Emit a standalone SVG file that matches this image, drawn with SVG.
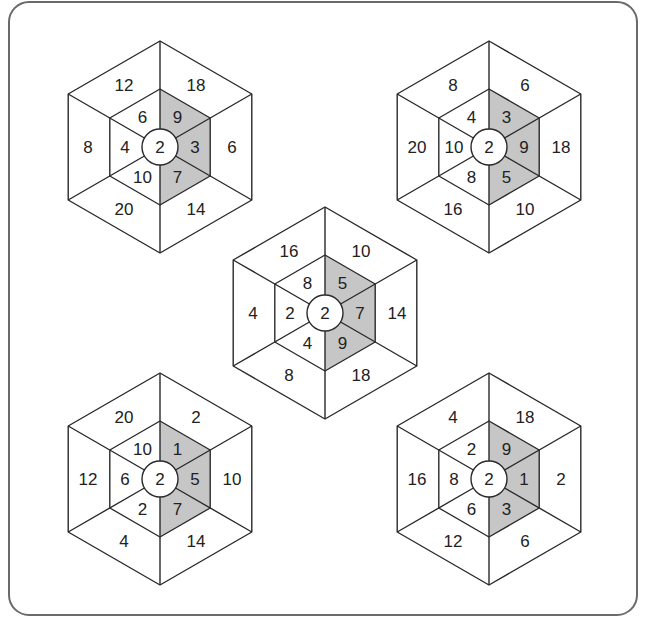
<svg xmlns="http://www.w3.org/2000/svg" xmlns:xlink="http://www.w3.org/1999/xlink" width="654" height="618" viewBox="0 0 654 618">
<style>
.ln{fill:none;stroke:#2a2a2a;stroke-width:1.4;stroke-linejoin:round}
.sh{fill:#c6c6c6;stroke:none}
.cc{fill:#fff;stroke:#2a2a2a;stroke-width:1.4}
text{font-family:"Liberation Sans",Arial,sans-serif;font-size:17px;fill:#222;text-anchor:middle}
.frame{fill:#fff;stroke:#6a6a6a;stroke-width:2}
</style>
<defs>
<g id="hexshape">
<polygon class="sh" points="0,0 0,-58 50.2,-29 50.2,29 0,58"/>
<polygon class="ln" points="0,-106 91.8,-53 91.8,53 0,106 -91.8,53 -91.8,-53"/>
<polygon class="ln" points="0,-58 50.2,-29 50.2,29 0,58 -50.2,29 -50.2,-29"/>
<path class="ln" d="M0,-18V-106M0,18V106M15.6,-9L91.8,-53M15.6,9L91.8,53M-15.6,-9L-91.8,-53M-15.6,9L-91.8,53"/>
<circle class="cc" r="18"/>
</g>
</defs>
<rect class="frame" x="9" y="2" width="628" height="613" rx="20"/>
<g id="connectors"/>
<g id="hex-top-left" transform="translate(160,147)">
<use xlink:href="#hexshape"/>
<text x="0" y="6">2</text>
<text x="17.5" y="-24.3">9</text><text x="35" y="6">3</text><text x="17.5" y="36.3">7</text>
<text x="-17.5" y="36.3">10</text><text x="-35" y="6">4</text><text x="-17.5" y="-24.3">6</text>
<text x="36" y="-56.4">18</text><text x="72" y="6">6</text><text x="36" y="68.4">14</text>
<text x="-36" y="68.4">20</text><text x="-72" y="6">8</text><text x="-36" y="-56.4">12</text>
</g>
<g id="hex-top-right" transform="translate(489,147)">
<use xlink:href="#hexshape"/>
<text x="0" y="6">2</text>
<text x="17.5" y="-24.3">3</text><text x="35" y="6">9</text><text x="17.5" y="36.3">5</text>
<text x="-17.5" y="36.3">8</text><text x="-35" y="6">10</text><text x="-17.5" y="-24.3">4</text>
<text x="36" y="-56.4">6</text><text x="72" y="6">18</text><text x="36" y="68.4">10</text>
<text x="-36" y="68.4">16</text><text x="-72" y="6">20</text><text x="-36" y="-56.4">8</text>
</g>
<g id="hex-center" transform="translate(325,313)">
<use xlink:href="#hexshape"/>
<text x="0" y="6">2</text>
<text x="17.5" y="-24.3">5</text><text x="35" y="6">7</text><text x="17.5" y="36.3">9</text>
<text x="-17.5" y="36.3">4</text><text x="-35" y="6">2</text><text x="-17.5" y="-24.3">8</text>
<text x="36" y="-56.4">10</text><text x="72" y="6">14</text><text x="36" y="68.4">18</text>
<text x="-36" y="68.4">8</text><text x="-72" y="6">4</text><text x="-36" y="-56.4">16</text>
</g>
<g id="hex-bottom-left" transform="translate(160,479)">
<use xlink:href="#hexshape"/>
<text x="0" y="6">2</text>
<text x="17.5" y="-24.3">1</text><text x="35" y="6">5</text><text x="17.5" y="36.3">7</text>
<text x="-17.5" y="36.3">2</text><text x="-35" y="6">6</text><text x="-17.5" y="-24.3">10</text>
<text x="36" y="-56.4">2</text><text x="72" y="6">10</text><text x="36" y="68.4">14</text>
<text x="-36" y="68.4">4</text><text x="-72" y="6">12</text><text x="-36" y="-56.4">20</text>
</g>
<g id="hex-bottom-right" transform="translate(489,479)">
<use xlink:href="#hexshape"/>
<text x="0" y="6">2</text>
<text x="17.5" y="-24.3">9</text><text x="35" y="6">1</text><text x="17.5" y="36.3">3</text>
<text x="-17.5" y="36.3">6</text><text x="-35" y="6">8</text><text x="-17.5" y="-24.3">2</text>
<text x="36" y="-56.4">18</text><text x="72" y="6">2</text><text x="36" y="68.4">6</text>
<text x="-36" y="68.4">12</text><text x="-72" y="6">16</text><text x="-36" y="-56.4">4</text>
</g>
</svg>
